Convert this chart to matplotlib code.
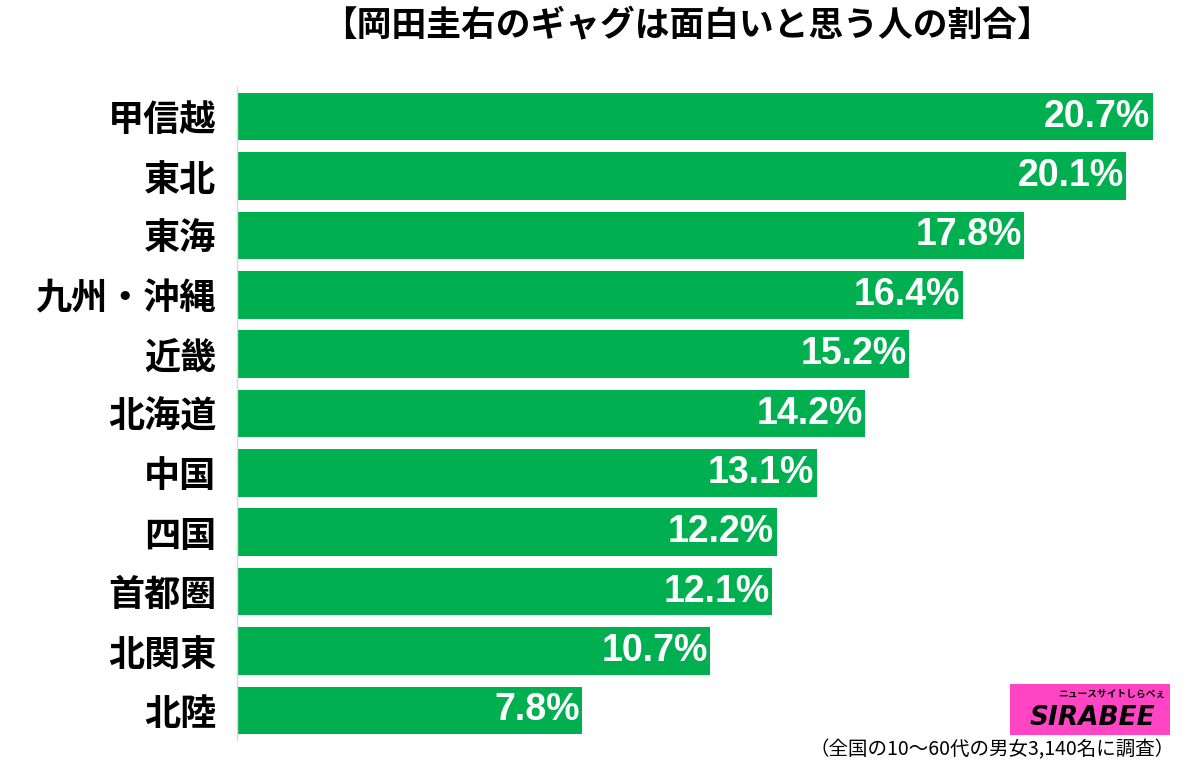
import matplotlib.pyplot as plt
from matplotlib.patches import Rectangle

plt.rcParams['font.family'] = ['Noto Sans CJK JP', 'DejaVu Sans']

# Data
regions = ["甲信越", "東北", "東海", "九州・沖縄", "近畿", "北海道",
           "中国", "四国", "首都圏", "北関東", "北陸"]
values = [20.7, 20.1, 17.8, 16.4, 15.2, 14.2, 13.1, 12.2, 12.1, 10.7, 7.8]

title = "【岡田圭右のギャグは面白いと思う人の割合】"
note = "（全国の10～60代の男女3,140名に調査）"

fig = plt.figure(figsize=(12, 7.63), dpi=100)
ax = fig.add_axes([0.1975, 0.0301, 0.7742, 0.8559])

y = list(range(len(regions)))
ax.barh(y, values, height=0.8, color="#00B050")

for yi, v in zip(y, values):
    ax.text(v - 0.06, yi, f"{v}%", ha="right", va="center", color="white",
            fontsize=27, fontweight="bold", family="Liberation Sans")

ax.set_ylim(len(regions) - 0.5, -0.5)
ax.set_xlim(0, 21)
ax.set_yticks(y)
ax.set_yticklabels(regions, fontsize=26, fontweight="bold")
ax.tick_params(axis="y", length=0, pad=15)
ax.set_xticks([])
for s in ["top", "right", "bottom"]:
    ax.spines[s].set_visible(False)
ax.spines["left"].set_color("#D9D9D9")
ax.spines["left"].set_linewidth(1)

fig.text(0.5725, 0.967, title, ha="center", va="center", fontsize=25,
         fontweight="bold")
fig.text(0.979, 0.017, note, ha="right", va="center", fontsize=14)

# logo
fig.patches.append(Rectangle((1010 / 1200, 1 - 735 / 763), 160 / 1200, 51 / 763,
                             transform=fig.transFigure, facecolor="#FF44C4",
                             edgecolor="none"))
fig.text(1092 / 1200, 1 - 718 / 763, "SIRABEE", ha="center", va="center",
         fontsize=19, fontweight="bold", style="italic", family="DejaVu Sans")
fig.text(1112 / 1200, 1 - 694 / 763, "ニュースサイトしらべぇ", ha="center", va="center",
         fontsize=7, fontweight="bold")

plt.savefig("out.png")
